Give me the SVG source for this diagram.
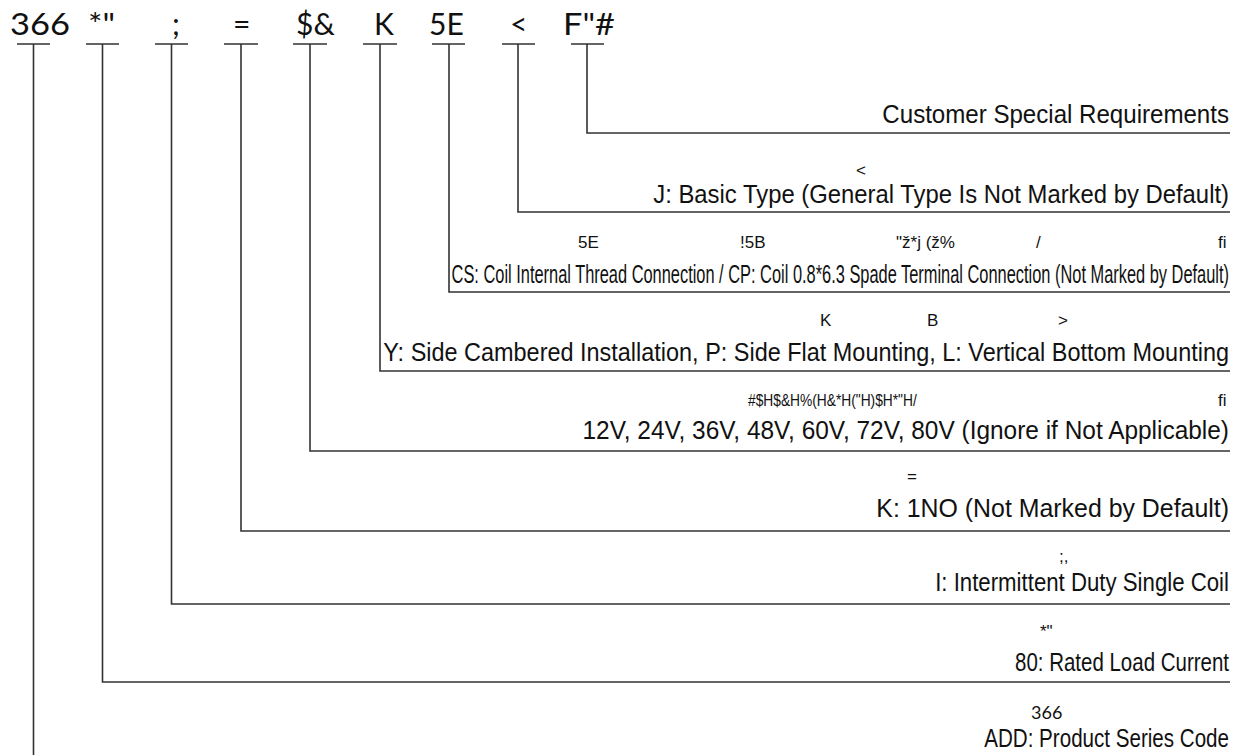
<svg xmlns="http://www.w3.org/2000/svg" width="1246" height="755" viewBox="0 0 1246 755">
<style>
.code{font-family:Lato,"Open Sans",sans-serif;font-size:30px;fill:#111}
.desc{font-family:"Liberation Sans",Arial,sans-serif;font-size:26px;fill:#111;text-anchor:end}
.sm{font-family:"Liberation Sans",Arial,sans-serif;font-size:17px;fill:#111}
.smd{font-family:Lato,"DejaVu Sans",sans-serif;font-size:18px;fill:#111}
.ln{stroke:#333;stroke-width:1.6;fill:none}
</style>
<rect width="1246" height="755" fill="#fff"/>
<g id="codes">
<g id="c-366"><text class="code" x="10" y="35" textLength="60" lengthAdjust="spacingAndGlyphs">366</text></g>
<g id="c-80"><text class="code" x="88" y="35" textLength="27" lengthAdjust="spacingAndGlyphs">*"</text></g>
<g id="c-i"><text class="code" x="172" y="35">;</text></g>
<g id="c-k"><text class="code" x="233" y="35">=</text></g>
<g id="c-v"><text class="code" x="296" y="35">$&amp;</text></g>
<g id="c-y"><text class="code" x="374" y="35">K</text></g>
<g id="c-cs"><text class="code" x="429" y="35">5E</text></g>
<g id="c-j"><text class="code" x="510" y="35">&lt;</text></g>
<g id="c-f"><text class="code" x="563" y="35" textLength="52" lengthAdjust="spacingAndGlyphs">F"#</text></g>
</g>
<g id="connectors" class="ln">
<path d="M17 44H50M33.5 44V755"/>
<path d="M86 44H119M102.5 44V682H1230"/>
<path d="M155 44H188M171.5 44V604H1230"/>
<path d="M224 44H258M241 44V531H1230"/>
<path d="M293 44H327M310 44V451H1230"/>
<path d="M363 44H397M380 44V371H1230"/>
<path d="M432 44H465M449 44V292H1230"/>
<path d="M502 44H535M518 44V212H1230"/>
<path d="M571 44H604M587 44V133H1230"/>
</g>
<g id="d-f"><text class="desc" transform="translate(1229,123) scale(0.927,1)">Customer Special Requirements</text></g>
<g id="d-j">
<text class="sm" x="856" y="176" font-size="16">&lt;</text>
<text class="desc" transform="translate(1229,203) scale(0.918,1)">J: Basic Type (General Type Is Not Marked by Default)</text></g>
<g id="d-cs">
<text class="sm" x="578" y="248">5E</text>
<text class="sm" x="740" y="248">!5B</text>
<text class="sm" x="896" y="248">"ž*j (ž%</text>
<text class="sm" x="1036" y="248">/</text>
<text class="sm" x="1218" y="248">fi</text>
<text class="desc" transform="translate(1229,283) scale(0.631,1)">CS: Coil Internal Thread Connection / CP: Coil 0.8*6.3 Spade Terminal Connection (Not Marked by Default)</text></g>
<g id="d-y">
<text class="sm" x="820" y="326">K</text>
<text class="sm" x="927" y="326">B</text>
<text class="sm" x="1058" y="326">&gt;</text>
<text class="desc" transform="translate(1229,361) scale(0.902,1)">Y: Side Cambered Installation, P: Side Flat Mounting, L: Vertical Bottom Mounting</text></g>
<g id="d-v">
<text class="sm" font-size="20" transform="translate(748,406) scale(0.81,1)">#$H$&amp;H%(H&amp;*H("H)$H*"H/</text>
<text class="sm" x="1218" y="406">fi</text>
<text class="desc" transform="translate(1229,439) scale(0.94,1)">12V, 24V, 36V, 48V, 60V, 72V, 80V (Ignore if Not Applicable)</text></g>
<g id="d-k">
<text class="sm" x="907" y="482">=</text>
<text class="desc" transform="translate(1229,517) scale(0.958,1)">K: 1NO (Not Marked by Default)</text></g>
<g id="d-i">
<text class="sm" x="1059" y="562">;,</text>
<text class="desc" transform="translate(1229,591) scale(0.855,1)">I: Intermittent Duty Single Coil</text></g>
<g id="d-80">
<text class="sm" x="1040" y="637">*"</text>
<text class="desc" transform="translate(1229,671) scale(0.788,1)">80: Rated Load Current</text></g>
<g id="d-366">
<text class="smd" x="1031" y="719">366</text>
<text class="desc" transform="translate(1229,747) scale(0.792,1)">ADD: Product Series Code</text></g>
</svg>
